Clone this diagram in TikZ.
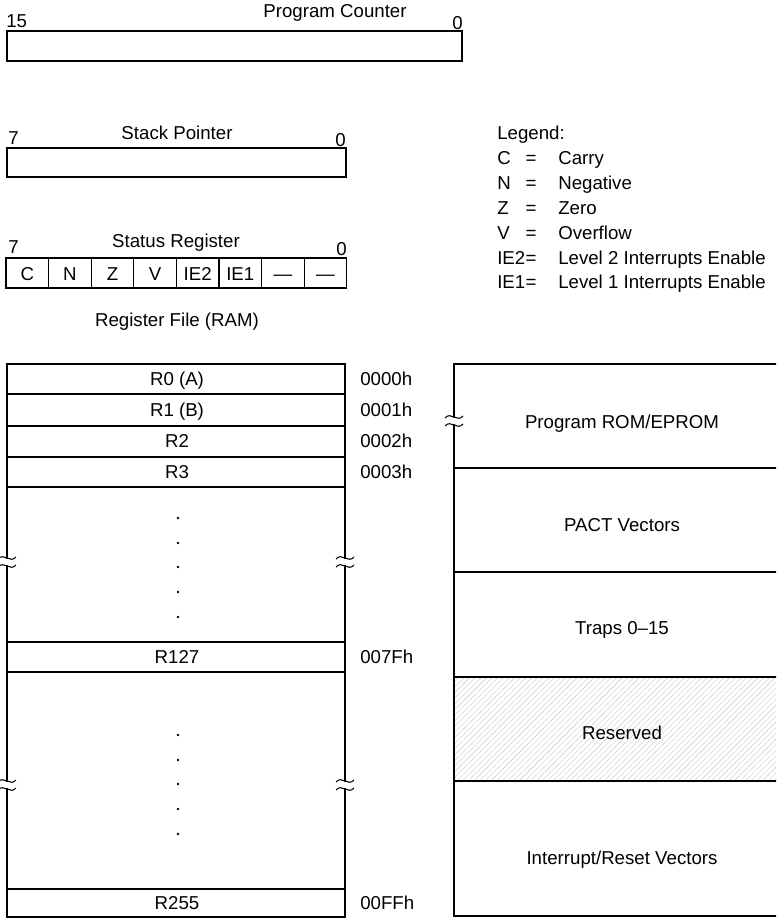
\documentclass[tikz,border=0pt]{standalone}
\usepackage{fontspec}
\setmainfont{Liberation Sans}
\usetikzlibrary{patterns.meta}

\tikzset{
  reg/.style={line width=0.8pt, line cap=rect},
  ttl/.style={font=\fontsize{14}{16}\selectfont, inner sep=0pt, anchor=base},
  cut/.style={line width=0.8pt}
}
\newcommand\cutmark[2]{%
  \draw[cut] (#1-9,#2-3) .. controls (#1-3,#2-10) and (#1+3,#2+2) .. (#1+9,#2-5);
  \draw[cut] (#1-9,#2+5) .. controls (#1-3,#2-2) and (#1+3,#2+10) .. (#1+9,#2+3);
}

\begin{document}
\begin{tikzpicture}[x=0.75pt,y=-0.75pt]
  \clip (0,0) rectangle (776,921);

  % program counter
  \node[ttl] (pc) at (335,17) {Program Counter};
  \node[ttl, anchor=base west] (pc15) at (6,27) {15};
  \node[ttl, anchor=base east] (pc0) at (463,29) {0};
  \draw[reg] (7,31) rectangle (462,61);

  % stack pointer
  \node[ttl] (sp) at (177,139) {Stack Pointer};
  \node[ttl, anchor=base west] (sp7) at (8,144) {7};
  \node[ttl, anchor=base east] (sp0) at (346,146) {0};
  \draw[reg] (7,148) rectangle (346,177);

  % status register
  \node[ttl] (st) at (176,247) {Status Register};
  \node[ttl, anchor=base west] (st7) at (8,253) {7};
  \node[ttl, anchor=base east] (st0) at (347,255) {0};
  \foreach \f [count=\i from 0] in {C,N,Z,V,IE2,IE1,\textemdash,\textemdash}
    {\draw[reg] (6+42.6*\i,258) rectangle ++(42.6,30);
     \node[ttl] (bit\i) at (27.3+42.6*\i,280) {\f};}

  % legend
  \node[ttl, anchor=base west] (leg) at (497,139) {Legend:};
  \foreach \k/\v [count=\i] in {C/Carry, N/Negative, Z/Zero, V/Overflow,
      IE2/Level 2 Interrupts Enable, IE1/Level 1 Interrupts Enable}
    {\node[ttl, anchor=base west] (key\i) at (497,140+24.8*\i) {\k};
     \node[ttl] (eq\i) at (531,140+24.8*\i) {=};
     \node[ttl, anchor=base west] (val\i) at (558,140+24.8*\i) {\v};}

  % register file
  \node[ttl] (rf) at (177,326) {Register File (RAM)};
  \foreach \y in {364,394,426,457,487,642,672,889,917}
    \draw[reg] (7,\y) -- (345,\y);
  \foreach \x in {7,345}
    {\draw[reg] (\x,364) -- (\x,558) (\x,566) -- (\x,781) (\x,789) -- (\x,917);
     \cutmark{\x}{562}
     \cutmark{\x}{785}}
  \foreach \t/\y/\a in {{R0 (A)}/379/0000h, {R1 (B)}/410/0001h, R2/441/0002h,
      R3/472/0003h, R127/657/007Fh, R255/903/00FFh}
    {\node[ttl] (r\a) at (177,\y+6) {\t};
     \node[ttl, anchor=base west] (a\a) at (360,\y+6) {\a};}
  \foreach \y in {518,543,567,592,617,735,760,784,809,834}
    \fill (178,\y) circle[radius=1.3];

  % memory map
  \fill[pattern={Lines[angle=45,distance=3pt,line width=0.3pt]}, pattern color=gray!45]
    (454,677) rectangle (790,781);
  \foreach \y in {364,468,572,677,781,916}
    \draw[reg] (454,\y) -- (790,\y);
  \draw[reg] (454,364) -- (454,417) (454,425) -- (454,916);
  \cutmark{454}{421}
  \foreach \t/\y [count=\i] in {{Program ROM/EPROM}/422, {PACT Vectors}/525,
      {Traps 0\textendash15}/628, {Reserved}/733, {Interrupt/Reset Vectors}/858}
    {\node[ttl] (mm\i) at (622,\y+6) {\t};}
\end{tikzpicture}
\end{document}
